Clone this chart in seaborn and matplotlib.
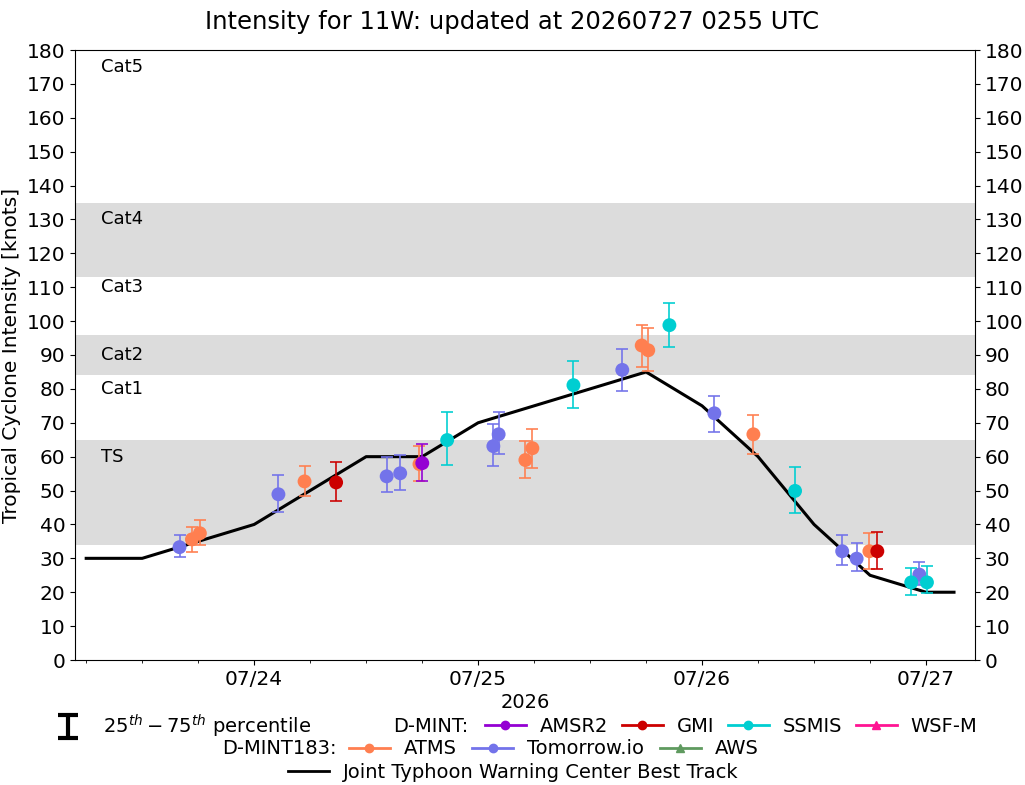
import numpy as np
import pandas as pd
import matplotlib
matplotlib.use("Agg")
import matplotlib.pyplot as plt
import matplotlib.dates as mdates
import matplotlib.transforms as mtransforms
from matplotlib.lines import Line2D
from matplotlib.container import ErrorbarContainer
from matplotlib.legend_handler import HandlerErrorbar
import seaborn as sns

# ---------------- data ----------------
bt_time = ["2026-07-23 06:00", "2026-07-23 12:00", "2026-07-23 18:00", "2026-07-24 00:00",
           "2026-07-24 06:00", "2026-07-24 12:00", "2026-07-24 18:00", "2026-07-25 00:00",
           "2026-07-25 06:00", "2026-07-25 12:00", "2026-07-25 18:00", "2026-07-26 00:00",
           "2026-07-26 06:00", "2026-07-26 12:00", "2026-07-26 18:00", "2026-07-27 00:00",
           "2026-07-27 03:00"]
bt_vmax = [30, 30, 35, 40, 50, 60, 60, 70, 75, 80, 85, 75, 60, 40, 25, 20, 20]

atms_time = ["2026-07-23 17:20", "2026-07-23 18:11", "2026-07-24 05:24", "2026-07-24 17:43",
             "2026-07-25 05:04", "2026-07-25 05:49", "2026-07-25 17:32", "2026-07-25 18:14",
             "2026-07-26 05:30", "2026-07-26 17:56"]
atms_val = [35.6, 37.4, 52.7, 57.8, 59.0, 62.5, 92.8, 91.4, 66.6, 32.1]
atms_p75 = [39.3, 41.2, 57.1, 63.1, 64.5, 68.3, 99.0, 98.1, 72.4, 37.4]
atms_p25 = [32.0, 33.8, 48.4, 52.9, 53.6, 56.8, 86.6, 85.3, 60.8, 27.0]

tio_time = ["2026-07-23 16:00", "2026-07-24 02:36", "2026-07-24 14:12", "2026-07-24 15:39",
            "2026-07-25 01:38", "2026-07-25 02:12", "2026-07-25 15:27", "2026-07-26 01:19",
            "2026-07-26 15:01", "2026-07-26 16:34", "2026-07-26 23:17"]
tio_val = [33.3, 48.9, 54.2, 55.1, 63.1, 66.6, 85.6, 72.8, 32.1, 29.9, 25.2]
tio_p75 = [36.8, 54.5, 59.8, 60.4, 69.6, 73.1, 91.9, 78.0, 36.8, 34.6, 28.8]
tio_p25 = [30.3, 43.6, 49.5, 50.2, 57.1, 60.8, 79.4, 67.4, 28.0, 26.3, 22.1]

amsr2_time = ["2026-07-24 18:01"]
amsr2_val = [58.1]
amsr2_p75 = [63.7]
amsr2_p25 = [52.8]

gmi_time = ["2026-07-24 08:47", "2026-07-26 18:47"]
gmi_val = [52.4, 32.1]
gmi_p75 = [58.4, 37.8]
gmi_p25 = [46.8, 27.0]

ssmis_time = ["2026-07-24 20:41", "2026-07-25 10:13", "2026-07-25 20:30", "2026-07-26 09:58",
              "2026-07-26 22:25", "2026-07-27 00:06"]
ssmis_val = [64.9, 81.1, 98.8, 49.9, 22.9, 22.9]
ssmis_p75 = [73.1, 88.1, 105.4, 56.9, 27.2, 27.6]
ssmis_p25 = [57.5, 74.4, 92.3, 43.3, 19.1, 19.7]

cat_labels = ["Cat5", "Cat4", "Cat3", "Cat2", "Cat1", "TS"]
cat_label_y = [175, 130, 110, 90, 80, 60]
band_lo = [34, 84, 113]
band_hi = [65, 96, 135]

title = "Intensity for 11W: updated at 20260727 0255 UTC"

# ---------------- colors ----------------
C_AMSR2 = "#9400D3"
C_GMI = "#CC0000"
C_SSMIS = "#00CED1"
C_WSFM = "#FF1493"
C_ATMS = "#FF7F50"
C_TIO = "#7373EA"
C_AWS = "#5F9A5F"

FS = 14
plt.rcParams["font.family"] = ["DejaVu Sans"]
plt.rcParams["font.size"] = FS

fig = plt.figure(figsize=(10.25, 7.85), dpi=100)
ax = fig.add_axes([75 / 1025, 1 - 660 / 785, 900 / 1025, 610 / 785])

for lo, hi in zip(band_lo, band_hi):
    ax.axhspan(lo, hi, color="#DCDCDC", zorder=0, lw=0)

trans = mtransforms.blended_transform_factory(ax.transAxes, ax.transData)
for lab, yv in zip(cat_labels, cat_label_y):
    ax.text(0.029, yv, lab, transform=trans, ha="left", va="center", fontsize=13)

bt = pd.DataFrame({"time": pd.to_datetime(bt_time), "vmax": bt_vmax})
sns.lineplot(data=bt, x="time", y="vmax", color="black", lw=2.2, ax=ax, zorder=3)

series = [
    ("ATMS", atms_time, atms_val, atms_p25, atms_p75, C_ATMS),
    ("Tomorrow.io", tio_time, tio_val, tio_p25, tio_p75, C_TIO),
    ("AMSR2", amsr2_time, amsr2_val, amsr2_p25, amsr2_p75, C_AMSR2),
    ("GMI", gmi_time, gmi_val, gmi_p25, gmi_p75, C_GMI),
    ("SSMIS", ssmis_time, ssmis_val, ssmis_p25, ssmis_p75, C_SSMIS),
]
z = 4
for name, t, v, p25, p75, c in series:
    tt = pd.to_datetime(t)
    v = np.array(v)
    yerr = np.vstack([v - np.array(p25), np.array(p75) - v])
    ax.errorbar(tt, v, yerr=yerr, fmt="none", ecolor=c, elinewidth=1.3,
                capsize=4, capthick=1.3, zorder=z, alpha=0.9)
    df = pd.DataFrame({"time": tt, "val": v})
    sns.scatterplot(data=df, x="time", y="val", color=c, s=100, edgecolor="none",
                    ax=ax, zorder=z + 0.5, legend=False)
    z += 1

ax.set_ylim(0, 180)
ax.set_yticks(np.arange(0, 181, 10))
ax.set_xlim(pd.Timestamp("2026-07-23 04:48"), pd.Timestamp("2026-07-27 05:15"))
ax.xaxis.set_major_locator(mdates.DayLocator())
ax.xaxis.set_major_formatter(mdates.DateFormatter("%m/%d"))
ax.xaxis.set_minor_locator(mdates.HourLocator(byhour=[0, 6, 12, 18]))
ax.tick_params(axis="y", right=True, labelright=True, labelsize=14.5)
ax.tick_params(axis="x", labelsize=14.5)
ax.set_xlabel("2026", fontsize=FS, labelpad=3)
ax.set_ylabel("Tropical Cyclone Intensity [knots]", fontsize=14.5, labelpad=4)
fig.suptitle(title, fontsize=17.5, x=0.5, y=1 - 22 / 785, va="center")

# ---------------- legends ----------------
common = dict(frameon=False, fontsize=FS, handlelength=2.1, handletextpad=0.72,
              borderpad=0, borderaxespad=0, loc="center left")

eb = ax.errorbar([np.nan], [np.nan], yerr=[1], fmt="none", ecolor="black",
                 elinewidth=3, capsize=7, capthick=3)
leg0 = fig.legend([eb], [r"$25^{th}-75^{th}$ percentile"],
                  bbox_to_anchor=(48 / 1025, 1 - 726 / 785),
                  handler_map={ErrorbarContainer: HandlerErrorbar(yerr_size=0.6)}, **common)

def h(c, m="o"):
    return Line2D([], [], color=c, lw=2, marker=m, markersize=6)

fig.text(393 / 1025, 1 - 726 / 785, "D-MINT:", fontsize=FS, ha="left", va="center")
leg1 = fig.legend([h(C_AMSR2), h(C_GMI), h(C_SSMIS), h(C_WSFM, "^")],
                  ["AMSR2", "GMI", "SSMIS", "WSF-M"], ncol=4, columnspacing=0.7,
                  bbox_to_anchor=(485 / 1025, 1 - 726 / 785), **common)
fig.text(222 / 1025, 1 - 749 / 785, "D-MINT183:", fontsize=FS, ha="left", va="center")
leg2 = fig.legend([h(C_ATMS), h(C_TIO), h(C_AWS, "^")],
                  ["ATMS", "Tomorrow.io", "AWS"], ncol=3, columnspacing=0.8,
                  bbox_to_anchor=(349 / 1025, 1 - 749 / 785), **common)
leg3 = fig.legend([Line2D([], [], color="black", lw=2)],
                  ["Joint Typhoon Warning Center Best Track"],
                  bbox_to_anchor=(288 / 1025, 1 - 772 / 785), **common)

fig.savefig("out.png", dpi=100)
